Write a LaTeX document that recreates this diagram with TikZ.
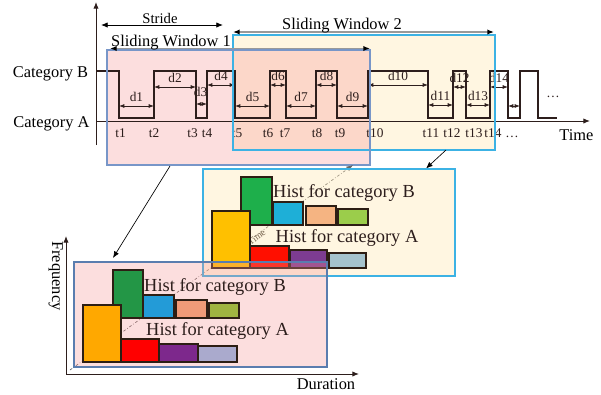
\documentclass[tikz,border=0pt]{standalone}
\usepackage{fontspec}
\setmainfont{Liberation Serif}
\usetikzlibrary{arrows.meta}
\definecolor{winpink}{RGB}{245,145,145}
\definecolor{wincream}{RGB}{255,228,170}
\definecolor{pinkedge}{RGB}{90,125,175}
\definecolor{winedge}{RGB}{120,150,200}
\definecolor{creamedge}{RGB}{60,178,228}
\definecolor{sig}{RGB}{45,30,28}
\definecolor{barline}{RGB}{45,30,20}
\definecolor{pgreen}{RGB}{35,150,70}
\definecolor{pblue}{RGB}{35,155,215}
\definecolor{ppeach}{RGB}{240,155,120}
\definecolor{polive}{RGB}{160,180,65}
\definecolor{porange}{RGB}{255,168,0}
\definecolor{pred}{RGB}{255,0,0}
\definecolor{ppurple}{RGB}{125,40,140}
\definecolor{plav}{RGB}{170,170,205}
\definecolor{cgreen}{RGB}{30,175,75}
\definecolor{cblue}{RGB}{30,175,215}
\definecolor{cpeach}{RGB}{245,180,130}
\definecolor{clgreen}{RGB}{155,205,75}
\definecolor{cyellow}{RGB}{255,192,0}
\definecolor{cred}{RGB}{255,15,0}
\definecolor{cpurple}{RGB}{125,60,145}
\definecolor{cgray}{RGB}{165,195,205}
\tikzset{
  tip/.style={{Latex[length=4pt,width=3pt]}-{Latex[length=4pt,width=3pt]},line width=0.6pt,sig},
  winarrow/.style={{Latex[length=5pt,width=4pt,black]}-{Latex[length=5pt,width=4pt,black]},line width=1.3pt,black!40},
  ticklab/.style={font=\fontsize{10}{12}\selectfont,text=sig},
  catlab/.style={font=\fontsize{12.3}{14}\selectfont,anchor=base},
  histlab/.style={font=\fontsize{13.8}{16}\selectfont,anchor=base,text=sig,inner sep=1pt},
  bar/.style={draw=barline,line width=0.9pt},
  pinkbox/.style={fill=winpink,fill opacity=0.3,draw=pinkedge,line width=0.8pt},
  creambox/.style={fill=wincream,fill opacity=0.35,draw=creamedge,line width=0.8pt},
}
\begin{document}
\begin{tikzpicture}[x=0.75pt,y=-0.75pt]
  \useasboundingbox (0,0) rectangle (601,394);
  \fill [wincream,fill opacity=0.35] (233,35) rectangle (495,150);
  \fill [winpink,fill opacity=0.3] (107,50) rectangle (370,165);
  \draw [-{Latex[length=5pt,width=4pt]},line width=0.7pt,sig] (96,145) -- (96,2);
  \draw [-{Latex[length=5pt,width=4pt]},line width=0.7pt,sig] (96,121) -- (590,121);
  \node [catlab] (timelab) at (576.5,140) {Time};
  \node [catlab] (catB) at (50.5,77.5) {Category B};
  \node [catlab] (catA) at (51.5,127) {Category A};
  \draw [line width=0.8pt,sig] (96,71) -| (119,118) -| (154,71) -| (196,118) -| (207,71)
    -| (235,118) -| (270,71) -| (286,118) -| (316,71) -| (337,118) -| (368,71)
    -| (428,118) -| (453,71) -| (466,118) -| (490,71) -| (508,118) -| (520,71)
    -| (538,118) -- (557,118);
  \node [ticklab] (more) at (553,97) {\ldots};
  \foreach \x/\t in {120.5/t1,154/t2,192.5/t3,207/t4,237/t5,268/t6,285/t7,317/t8,
    340/t9,375/t10,431/t11,452/t12,474/t13,493/t14,512/\ldots}
    \node [ticklab,anchor=base] (lab\x) at (\x,137) {\t};
  \foreach \a/\b/\y/\n in {119/154/106/1,154/196/87/2,207/235/85/4,235/270/106/5,
    270/286/85/6,286/316/106/7,316/337/85/8,337/368/106/9,368/428/85/10,
    428/453/105/11,453/466/87/12,466/490/105/13,490/508/87/14}
    \draw [tip] (\a,\y) -- node [ticklab,above] (d\n) {d\n} (\b,\y);
  \draw [tip] (196,104) -- (207,104);
  \node [ticklab] (d3) at (200.5,92) {d3};
  \draw [tip] (508,106) -- (520,106);
  \draw [creamedge,line width=0.8pt] (233,35) rectangle (495,150);
  \draw [winedge,line width=0.8pt] (107,50) rectangle (370,165);
  \draw [{Latex[length=5pt,width=4pt]}-{Latex[length=5pt,width=4pt]},line width=0.6pt] (101,25) -- (223,25);
  \node [catlab,font=\fontsize{11}{13}\selectfont] (stride) at (160,23.5) {Stride};
  \draw [winarrow] (110,48.5) -- (370,48.5);
  \node [catlab] (sw1) at (171,46.5) {Sliding Window 1};
  \draw [winarrow] (233,32) -- (494,32);
  \node [catlab] (sw2) at (342,29) {Sliding Window 2};
  \coordinate (w1) at (170,166);
  \coordinate (h1) at (113,258);
  \coordinate (w2) at (446,150);
  \coordinate (h2) at (426,168.5);
  \draw [-{Latex[length=5pt,width=4pt]},line width=0.5pt] (w1) -- (h1);
  \draw [-{Latex[length=5pt,width=4pt]},line width=0.5pt] (w2) -- (h2);
  \draw [-{Latex[length=5pt,width=4pt]},line width=0.7pt,sig] (66,374) -- (66,236);
  \draw [-{Latex[length=5pt,width=4pt]},line width=0.7pt,sig] (66,374) -- (359,374);
  \node [catlab,rotate=-90] (freq) at (52,276) {Frequency};
  \node [catlab] (dur) at (326,389) {Duration};
  \draw [-{Latex[length=5pt,width=4pt]},line width=0.5pt,black!60,
    dash pattern=on 2pt off 1.5pt on 0.5pt off 1.5pt] (70,370) -- (353,165);
  \node [anchor=base,rotate=36,inner sep=0pt,font=\fontsize{7}{8}\selectfont,text=sig] (tdiag) at (258.5,239.5) {Time};
  \filldraw [creambox] (203,169) rectangle (455,276);
  \foreach \xa/\ya/\xb/\yb/\c in {241/177/272/225/cgreen,273/202/303/225/cblue,
    306/206/336/225/cpeach,338/209/368/225/clgreen,212/211/250/268/cyellow,
    250/246/289/268/cred,290/250/327/268/cpurple,329/253/366/268/cgray}
    \filldraw [bar,fill=\c] (\xa,\ya) rectangle (\xb,\yb);
  \node [histlab] (cB) at (344,197) {Hist for category B};
  \node [histlab] (cA) at (347,242) {Hist for category A};
  \filldraw [pinkbox] (74,262) rectangle (327,367);
  \foreach \xa/\ya/\xb/\yb/\c in {113/270/143/318/pgreen,143/295/174/318/pblue,
    176/300/207/318/ppeach,209/303/239/318/polive,83/305/121/362/porange,
    121/339/159/362/pred,159/344/198/362/ppurple,198/346/237/362/plav}
    \filldraw [bar,fill=\c] (\xa,\ya) rectangle (\xb,\yb);
  \node [histlab] (pB) at (215,291) {Hist for category B};
  \node [histlab] (pA) at (217.5,335) {Hist for category A};
\end{tikzpicture}
\end{document}
